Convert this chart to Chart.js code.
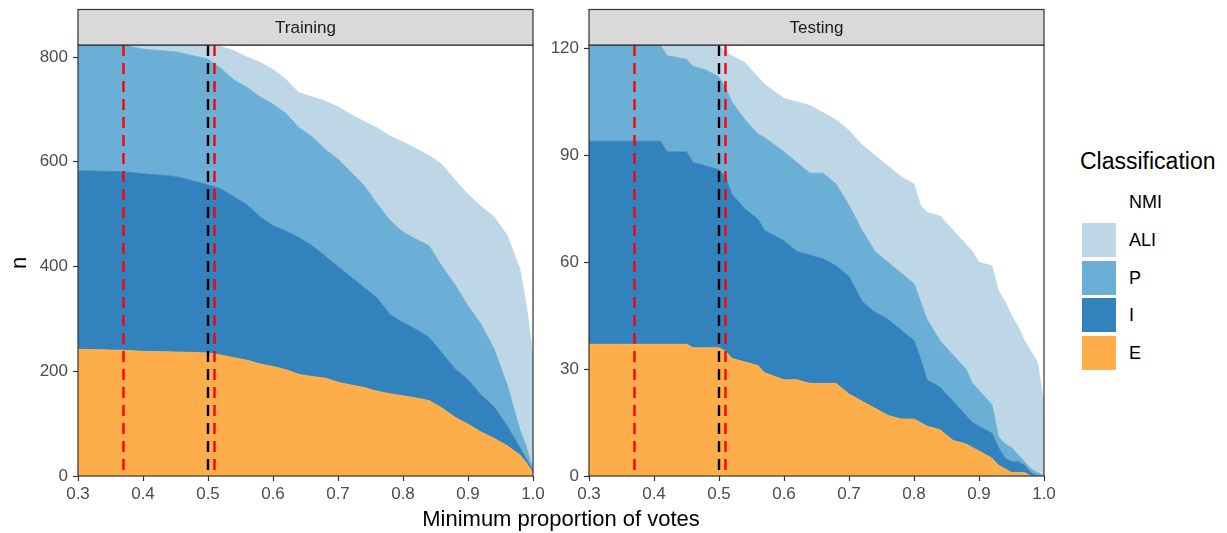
<!DOCTYPE html>
<html><head><meta charset="utf-8">
<script src="https://cdn.jsdelivr.net/npm/chart.js@4.4.1/dist/chart.umd.min.js"></script>
<style>
html,body{margin:0;padding:0;background:#fff;}
#wrap{position:relative;width:1227px;height:533px;overflow:hidden;font-family:"Liberation Sans",Arial,sans-serif;background:#fff;}
.box{position:absolute;top:0;height:533px;}
.txt{position:absolute;white-space:nowrap;color:#000;}
.sw{position:absolute;width:34px;height:34px;left:1082px;}
.lab{position:absolute;left:1129px;font-size:18px;color:#000;line-height:34px;}
</style></head><body>
<div id="wrap">
  <div class="box" style="left:0;width:556px;"><canvas id="c1" width="556" height="533"></canvas></div>
  <div class="box" style="left:540px;width:525px;"><canvas id="c2" width="525" height="533"></canvas></div>
  <div class="txt" style="left:8px;top:250px;font-size:22px;transform:rotate(-90deg);transform-origin:center;width:22px;text-align:center;">n</div>
  <div class="txt" style="left:311px;width:500px;text-align:center;top:506px;font-size:22px;">Minimum proportion of votes</div>
  <div id="legend"></div>
</div>
<script>
// ---- data ----
const classes = ["E", "I", "P", "ALI"];
const legendOrder = ["NMI", "ALI", "P", "I", "E"];

const trainX   = [0.30,0.37,0.40,0.45,0.50,0.52,0.54,0.56,0.58,0.60,0.62,0.64,0.66,0.68,0.70,0.72,0.74,0.76,0.78,0.80,0.82,0.84,0.86,0.88,0.90,0.92,0.94,0.96,0.98,0.99,1.00];
const trainE   = [242,240,238,237,235,231,226,221,214,209,203,194,190,187,179,174,169,162,157,153,149,144,130,112,99,84,72,58,40,25,6];
const trainI   = [341,341,339,335,321,317,307,297,281,269,265,261,250,233,221,206,191,178,151,140,131,121,105,93,85,71,60,38,14,7,3];
const trainP   = [240,242,238,238,240,230,223,224,229,232,224,210,208,204,205,200,195,180,180,173,172,175,165,160,141,135,111,79,34,23,3];
const trainALI = [0,0,8,13,27,42,56,58,66,66,65,67,76,92,100,110,122,145,161,172,173,172,195,200,213,225,252,285,307,268,218];

const testX    = [0.30,0.41,0.42,0.45,0.46,0.48,0.50,0.51,0.52,0.54,0.56,0.57,0.60,0.62,0.64,0.66,0.68,0.70,0.72,0.74,0.76,0.78,0.80,0.81,0.82,0.84,0.86,0.88,0.89,0.90,0.92,0.93,0.94,0.95,0.96,0.97,0.98,0.99,1.00];
const testE    = [37,37,37,37,36,36,36,35,33,32,31,29,27,27,26,26,26,23,21,19,17,16,16,15,14,13,10,9,8,7,5,3,2,1,1,1,0,0,0];
const testI    = [57,57,54,54,52,51,50,49,46,43,41,40,39,36,36,35,33,33,28,27,27,25,22,18,13,12,11,8,7,7,7,5,3,3,3,2,1,0,0];
const testP    = [27,27,27,26,27,27,26,25,26,25,24,26,25,25,23,24,23,20,20,17,16,16,16,16,17,13,13,13,11,10,8,3,4,4,2,1,1,1,0];
const testALI  = [0,0,3,4,6,7,9,10,13,16,16,15,15,17,19,17,18,21,24,27,27,27,28,27,30,35,35,35,37,36,39,41,40,37,36,34,33,31,20];

const trainTotal = 823;
const testTotal = 121;
const xTicks = [0.3,0.4,0.5,0.6,0.7,0.8,0.9,1.0];
const trainYTicks = [0,200,400,600,800];
const testYTicks = [0,30,60,90,120];
const redLines = [0.37, 0.51];
const blackLines = [0.50];

// ---- styles ----
const colors = {NMI:"#ffffff", ALI:"#bdd7e7", P:"#6baed6", I:"#3182bd", E:"#fdae4b"};
const FONT = "'Liberation Sans', Arial, sans-serif";

function makeDatasets(xs, series) {
  return classes.map((c, k) => ({
    label: c,
    data: xs.map((x, i) => ({x: x, y: series[k][i]})),
    backgroundColor: colors[c],
    borderColor: colors[c],
    borderWidth: 0.8,
    pointRadius: 0,
    pointHoverRadius: 0,
    tension: 0,
    fill: k === 0 ? 'origin' : '-1'
  }));
}

const panelPlugin = {
  id: 'panel',
  afterDatasetsDraw(chart, args, opts) {
    const ctx = chart.ctx, a = chart.chartArea, xs = chart.scales.x;
    ctx.save();
    ctx.beginPath(); ctx.rect(a.left, a.top, a.right - a.left, a.bottom - a.top); ctx.clip();
    ctx.lineWidth = 2.4;
    ctx.setLineDash([11, 7]);
    const draw = (v, col) => {
      const px = xs.getPixelForValue(v);
      ctx.strokeStyle = col;
      ctx.beginPath(); ctx.moveTo(px, a.top); ctx.lineTo(px, a.bottom); ctx.stroke();
    };
    blackLines.forEach(v => draw(v, '#000000'));
    redLines.forEach(v => draw(v, '#ff0000'));
    ctx.restore();
    ctx.save();
    ctx.strokeStyle = '#333333'; ctx.lineWidth = 1.2;
    ctx.strokeRect(a.left, a.top, a.right - a.left, a.bottom - a.top);
    // strip
    const sTop = 9.5;
    ctx.fillStyle = '#d9d9d9';
    ctx.fillRect(a.left, sTop, a.right - a.left, a.top - sTop);
    ctx.strokeRect(a.left, sTop, a.right - a.left, a.top - sTop);
    ctx.fillStyle = '#1a1a1a';
    ctx.font = "17px " + FONT;
    ctx.textAlign = 'center'; ctx.textBaseline = 'middle';
    ctx.fillText(opts.strip, (a.left + a.right) / 2, (sTop + a.top) / 2 + 1);
    ctx.restore();
  }
};

function makeChart(id, xs, series, total, yTicks, strip, yWidth, padRight) {
  return new Chart(document.getElementById(id), {
    type: 'line',
    data: { datasets: makeDatasets(xs, series) },
    plugins: [panelPlugin],
    options: {
      responsive: false,
      animation: false,
      events: [],
      layout: { padding: { left: 0, right: padRight, top: 45, bottom: 27 }, autoPadding: false },
      plugins: { legend: { display: false }, tooltip: { enabled: false }, panel: { strip: strip } },
      scales: {
        x: {
          type: 'linear', min: 0.3, max: 1.0,
          afterBuildTicks: s => { s.ticks = xTicks.map(v => ({value: v})); },
          afterFit: s => { s.height = 30; s.paddingLeft = 0; s.paddingRight = 0; },
          grid: { drawOnChartArea: false, drawTicks: true, tickLength: 5, tickColor: '#333333', tickWidth: 1.2 },
          border: { display: false },
          ticks: { autoSkip: false, maxRotation: 0, padding: 3, color: '#4d4d4d', font: { family: FONT, size: 17 },
                   callback: v => Number(v).toFixed(1) }
        },
        y: {
          type: 'linear', stacked: true, min: 0, max: total,
          afterBuildTicks: s => { s.ticks = yTicks.map(v => ({value: v})); },
          afterFit: s => { s.width = yWidth; s.paddingTop = 0; s.paddingBottom = 0; },
          grid: { drawOnChartArea: false, drawTicks: true, tickLength: 5, tickColor: '#333333', tickWidth: 1.2 },
          border: { display: false },
          ticks: { autoSkip: false, padding: 5, color: '#4d4d4d', font: { family: FONT, size: 17 } }
        }
      }
    }
  });
}

makeChart('c1', trainX, [trainE, trainI, trainP, trainALI], trainTotal, trainYTicks, 'Training', 78, 23);
makeChart('c2', testX, [testE, testI, testP, testALI], testTotal, testYTicks, 'Testing', 49, 21);

// legend
const lg = document.getElementById('legend');
let html = '<div class="txt" style="left:1080px;top:148px;font-size:23px;">Classification</div>';
const tops = [185, 223, 261, 298, 336];
legendOrder.forEach((c, i) => {
  html += '<div class="sw" style="top:' + tops[i] + 'px;background:' + colors[c] + ';"></div>';
  html += '<div class="lab" style="top:' + tops[i] + 'px;">' + c + '</div>';
});
lg.innerHTML = html;
</script>
</body></html>
